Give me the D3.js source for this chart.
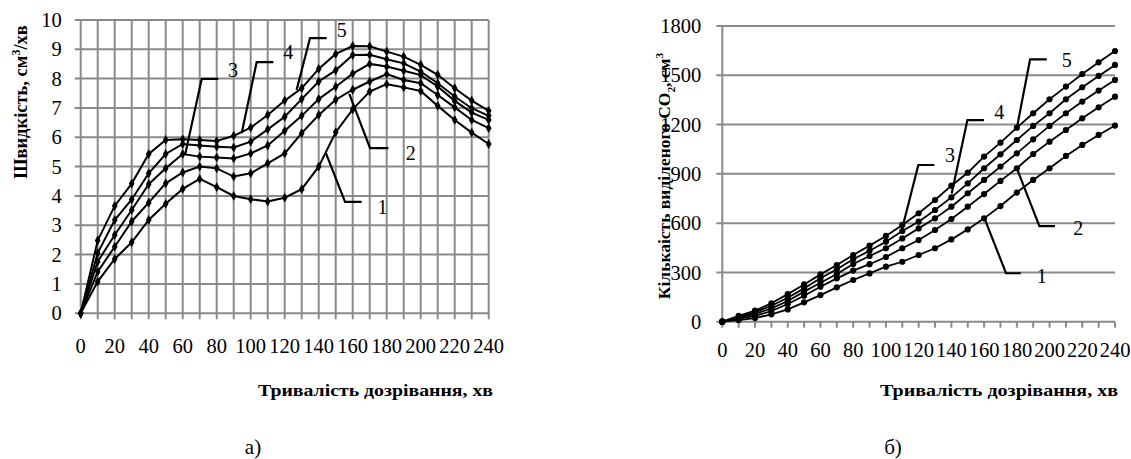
<!DOCTYPE html>
<html>
<head>
<meta charset="utf-8">
<script src="https://cdn.jsdelivr.net/npm/d3@7"></script>
<style>
  body { margin: 0; background: #fff; }
  text { font-family: 'Liberation Serif', 'DejaVu Serif', serif; }
</style>
</head>
<body>
<script>
// time axis (min), shared by both panels
const timeMin = [0, 10, 20, 30, 40, 50, 60, 70, 80, 90, 100, 110, 120, 130, 140, 150, 160, 170, 180, 190, 200, 210, 220, 230, 240];
const timeTicks = [0, 20, 40, 60, 80, 100, 120, 140, 160, 180, 200, 220, 240];
const rateTicks = [0, 1, 2, 3, 4, 5, 6, 7, 8, 9, 10];
const co2Ticks = [0, 300, 600, 900, 1200, 1500, 1800];

// panel a) – rate, cm3/min
const rate1 = [0, 1.08, 1.85, 2.42, 3.18, 3.73, 4.24, 4.58, 4.30, 4.00, 3.89, 3.81, 3.94, 4.23, 5.00, 6.17, 6.95, 7.56, 7.81, 7.70, 7.58, 7.07, 6.59, 6.16, 5.77];
const rate2 = [0, 1.42, 2.27, 3.13, 3.77, 4.43, 4.80, 5.00, 4.94, 4.66, 4.77, 5.11, 5.45, 6.14, 6.76, 7.28, 7.62, 7.90, 8.15, 7.95, 7.84, 7.44, 7.02, 6.59, 6.31];
const rate3 = [0, 1.76, 2.67, 3.52, 4.40, 4.94, 5.43, 5.34, 5.31, 5.28, 5.45, 5.72, 6.22, 6.73, 7.30, 7.72, 8.17, 8.50, 8.41, 8.27, 8.12, 7.73, 7.24, 6.84, 6.59];
const rate4 = [0, 2.05, 3.18, 3.88, 4.77, 5.43, 5.77, 5.72, 5.68, 5.65, 5.85, 6.27, 6.70, 7.30, 7.90, 8.28, 8.80, 8.81, 8.66, 8.52, 8.24, 7.84, 7.39, 6.99, 6.73];
const rate5 = [0, 2.48, 3.66, 4.42, 5.43, 5.91, 5.93, 5.91, 5.87, 6.05, 6.33, 6.76, 7.25, 7.67, 8.33, 8.84, 9.11, 9.10, 8.92, 8.75, 8.47, 8.13, 7.67, 7.25, 6.90];

// panel б) – released CO2, cm3
const co2_1 = [0, 10, 22, 45, 75, 118, 162, 209, 254, 294, 335, 365, 406, 447, 501, 562, 629, 704, 786, 863, 934, 1009, 1076, 1137, 1194];
const co2_2 = [0, 18, 35, 65, 108, 158, 213, 264, 311, 350, 394, 447, 497, 558, 625, 700, 777, 857, 934, 1021, 1096, 1167, 1238, 1305, 1370];
const co2_3 = [0, 24, 47, 81, 126, 183, 237, 290, 351, 400, 447, 507, 568, 629, 700, 782, 863, 944, 1025, 1110, 1192, 1269, 1340, 1407, 1472];
const co2_4 = [0, 29, 57, 97, 146, 203, 264, 319, 380, 432, 487, 552, 609, 680, 757, 842, 934, 1019, 1106, 1192, 1269, 1354, 1427, 1496, 1563];
const co2_5 = [0, 35, 67, 112, 168, 227, 288, 345, 406, 463, 522, 589, 660, 741, 828, 907, 1005, 1090, 1181, 1269, 1354, 1431, 1508, 1579, 1648];

// curve-number callouts, in data units: [start point, elbow, end of shelf], label position
const rateCallouts = [
  { name: "1", pts: [[144.3, 5.45], [155.5, 3.8], [165.3, 3.8]], label: [177.6, 3.63] },
  { name: "2", pts: [[158, 7.48], [170.2, 5.63], [181, 5.63]], label: [194.1, 5.45] },
  { name: "3", pts: [[61.4, 5.4], [71.2, 7.99], [80.9, 7.99]], label: [89.6, 8.3] },
  { name: "4", pts: [[94.7, 6.14], [103.5, 8.56], [113.3, 8.56]], label: [122.1, 8.9] },
  { name: "5", pts: [[127, 7.61], [134.9, 9.38], [144.7, 9.38]], label: [153.5, 9.66] }
];
const co2Callouts = [
  { name: "1", pts: [[160, 635], [173.4, 295], [182.4, 295]], label: [195.2, 278] },
  { name: "2", pts: [[180, 933], [193.8, 582], [203.4, 582]], label: [217.6, 568] },
  { name: "3", pts: [[109.7, 558], [119.8, 954], [129.6, 954]], label: [139.2, 1016] },
  { name: "4", pts: [[140.2, 781], [149.8, 1227], [160, 1227]], label: [169.3, 1278] },
  { name: "5", pts: [[180, 1177], [188.1, 1597], [198.3, 1597]], label: [210.5, 1592] }
];

const gridColor = "#8a8a8a";

const svg = d3.select("body").append("svg")
  .attr("width", 1131)
  .attr("height", 459)
  .attr("font-family", "'Liberation Serif', 'DejaVu Serif', serif");

svg.append("rect").attr("width", 1131).attr("height", 459).attr("fill", "#fff");

function drawPanel(opts) {
  const g = svg.append("g");
  const x = d3.scaleLinear().domain([0, 240]).range([opts.left, opts.right]);
  const y = d3.scaleLinear().domain(opts.yDomain).range([opts.bottom, opts.top]);

  // horizontal grid (with the small ticks left of the axis)
  g.append("g").selectAll("line")
    .data(opts.yTicks)
    .join("line")
    .attr("x1", x(0) - 6).attr("x2", x(240))
    .attr("y1", d => y(d)).attr("y2", d => y(d))
    .attr("stroke", gridColor).attr("stroke-width", 2);

  // vertical grid (panel a) or just ticks under the x axis (panel б)
  g.append("g").selectAll("line")
    .data(timeMin)
    .join("line")
    .attr("x1", d => x(d)).attr("x2", d => x(d))
    .attr("y1", d => opts.vGrid || d === 0 ? y(opts.yDomain[1]) : y(0))
    .attr("y2", y(0) + 6)
    .attr("stroke", gridColor).attr("stroke-width", 2);

  // tick labels
  g.append("g").selectAll("text")
    .data(opts.yTicks)
    .join("text")
    .attr("x", x(0) - opts.yLabelGap)
    .attr("y", d => y(d))
    .attr("dy", "0.35em")
    .attr("text-anchor", "end")
    .attr("font-size", 20.5)
    .text(d => d);

  g.append("g").selectAll("text")
    .data(timeTicks)
    .join("text")
    .attr("x", d => x(d))
    .attr("y", y(0) + opts.xLabelGap)
    .attr("text-anchor", "middle")
    .attr("font-size", 20.5)
    .text(d => d);

  // curves
  const line = d3.line().x((d, i) => x(timeMin[i])).y(d => y(d));
  const sym = d3.symbol().type(opts.symbol).size(opts.symbolSize);
  opts.series.forEach(vals => {
    g.append("path")
      .datum(vals)
      .attr("d", line)
      .attr("fill", "none")
      .attr("stroke", "#000")
      .attr("stroke-width", opts.lineWidth);
    g.append("g").selectAll("path")
      .data(vals)
      .join("path")
      .attr("transform", (d, i) => `translate(${x(timeMin[i])},${y(d)})`)
      .attr("d", sym)
      .attr("fill", "#000");
  });

  // callouts
  const cl = d3.line().x(d => x(d[0])).y(d => y(d[1]));
  opts.callouts.forEach(c => {
    g.append("path")
      .attr("d", cl(c.pts))
      .attr("fill", "none")
      .attr("stroke", "#000")
      .attr("stroke-width", 2.2);
    g.append("text")
      .attr("x", x(c.label[0]))
      .attr("y", y(c.label[1]))
      .attr("dy", "0.35em")
      .attr("text-anchor", "middle")
      .attr("font-size", 20)
      .text(c.name);
  });
}

drawPanel({
  left: 80.7, right: 488.7, top: 19.9, bottom: 313.3,
  yDomain: [0, 10], yTicks: rateTicks, vGrid: true,
  yLabelGap: 19, xLabelGap: 40,
  series: [rate1, rate2, rate3, rate4, rate5],
  symbol: d3.symbolDiamond, symbolSize: 28, lineWidth: 2,
  callouts: rateCallouts
});

drawPanel({
  left: 722.3, right: 1115, top: 26, bottom: 321.7,
  yDomain: [0, 1800], yTicks: co2Ticks, vGrid: false,
  yLabelGap: 21, xLabelGap: 35,
  series: [co2_1, co2_2, co2_3, co2_4, co2_5],
  symbol: d3.symbolCircle, symbolSize: 30, lineWidth: 1.8,
  callouts: co2Callouts
});

// rotated axis titles with super/subscripts
function yTitle(cx, cy, size, parts) {
  const t = svg.append("text")
    .attr("transform", `translate(${cx},${cy}) rotate(-90)`)
    .attr("text-anchor", "middle")
    .attr("dy", "0.35em")
    .attr("font-size", size)
    .attr("font-weight", "bold");
  parts.forEach(p => {
    const ts = t.append("tspan").text(p.t);
    if (p.sup) ts.attr("font-size", size * 0.65).attr("dy", -size * 0.4);
    if (p.sub) ts.attr("font-size", size * 0.65).attr("dy", size * 0.25);
    if (p.back) ts.attr("dy", p.back);
  });
}

yTitle(21, 102, 18.5, [{ t: "Швидкість, см" }, { t: "3", sup: true }, { t: "/хв", back: 18.5 * 0.4 }]);
yTitle(664, 176, 17.5, [
  { t: "Кількаість виділеного CO" }, { t: "2", sub: true },
  { t: ", см", back: -17.5 * 0.25 }, { t: "3", sup: true }
]);

[[375.5, 235], [999, 238]].forEach(([cx, len]) => {
  svg.append("text")
    .attr("x", cx).attr("y", 396)
    .attr("text-anchor", "middle")
    .attr("font-size", 17)
    .attr("font-weight", "bold")
    .attr("textLength", len)
    .attr("lengthAdjust", "spacingAndGlyphs")
    .text("Тривалість дозрівання, хв");
});

[["а)", 253], ["б)", 893]].forEach(([s, cx]) => {
  svg.append("text")
    .attr("x", cx).attr("y", 454)
    .attr("text-anchor", "middle")
    .attr("font-size", 21)
    .text(s);
});
</script>
</body>
</html>
